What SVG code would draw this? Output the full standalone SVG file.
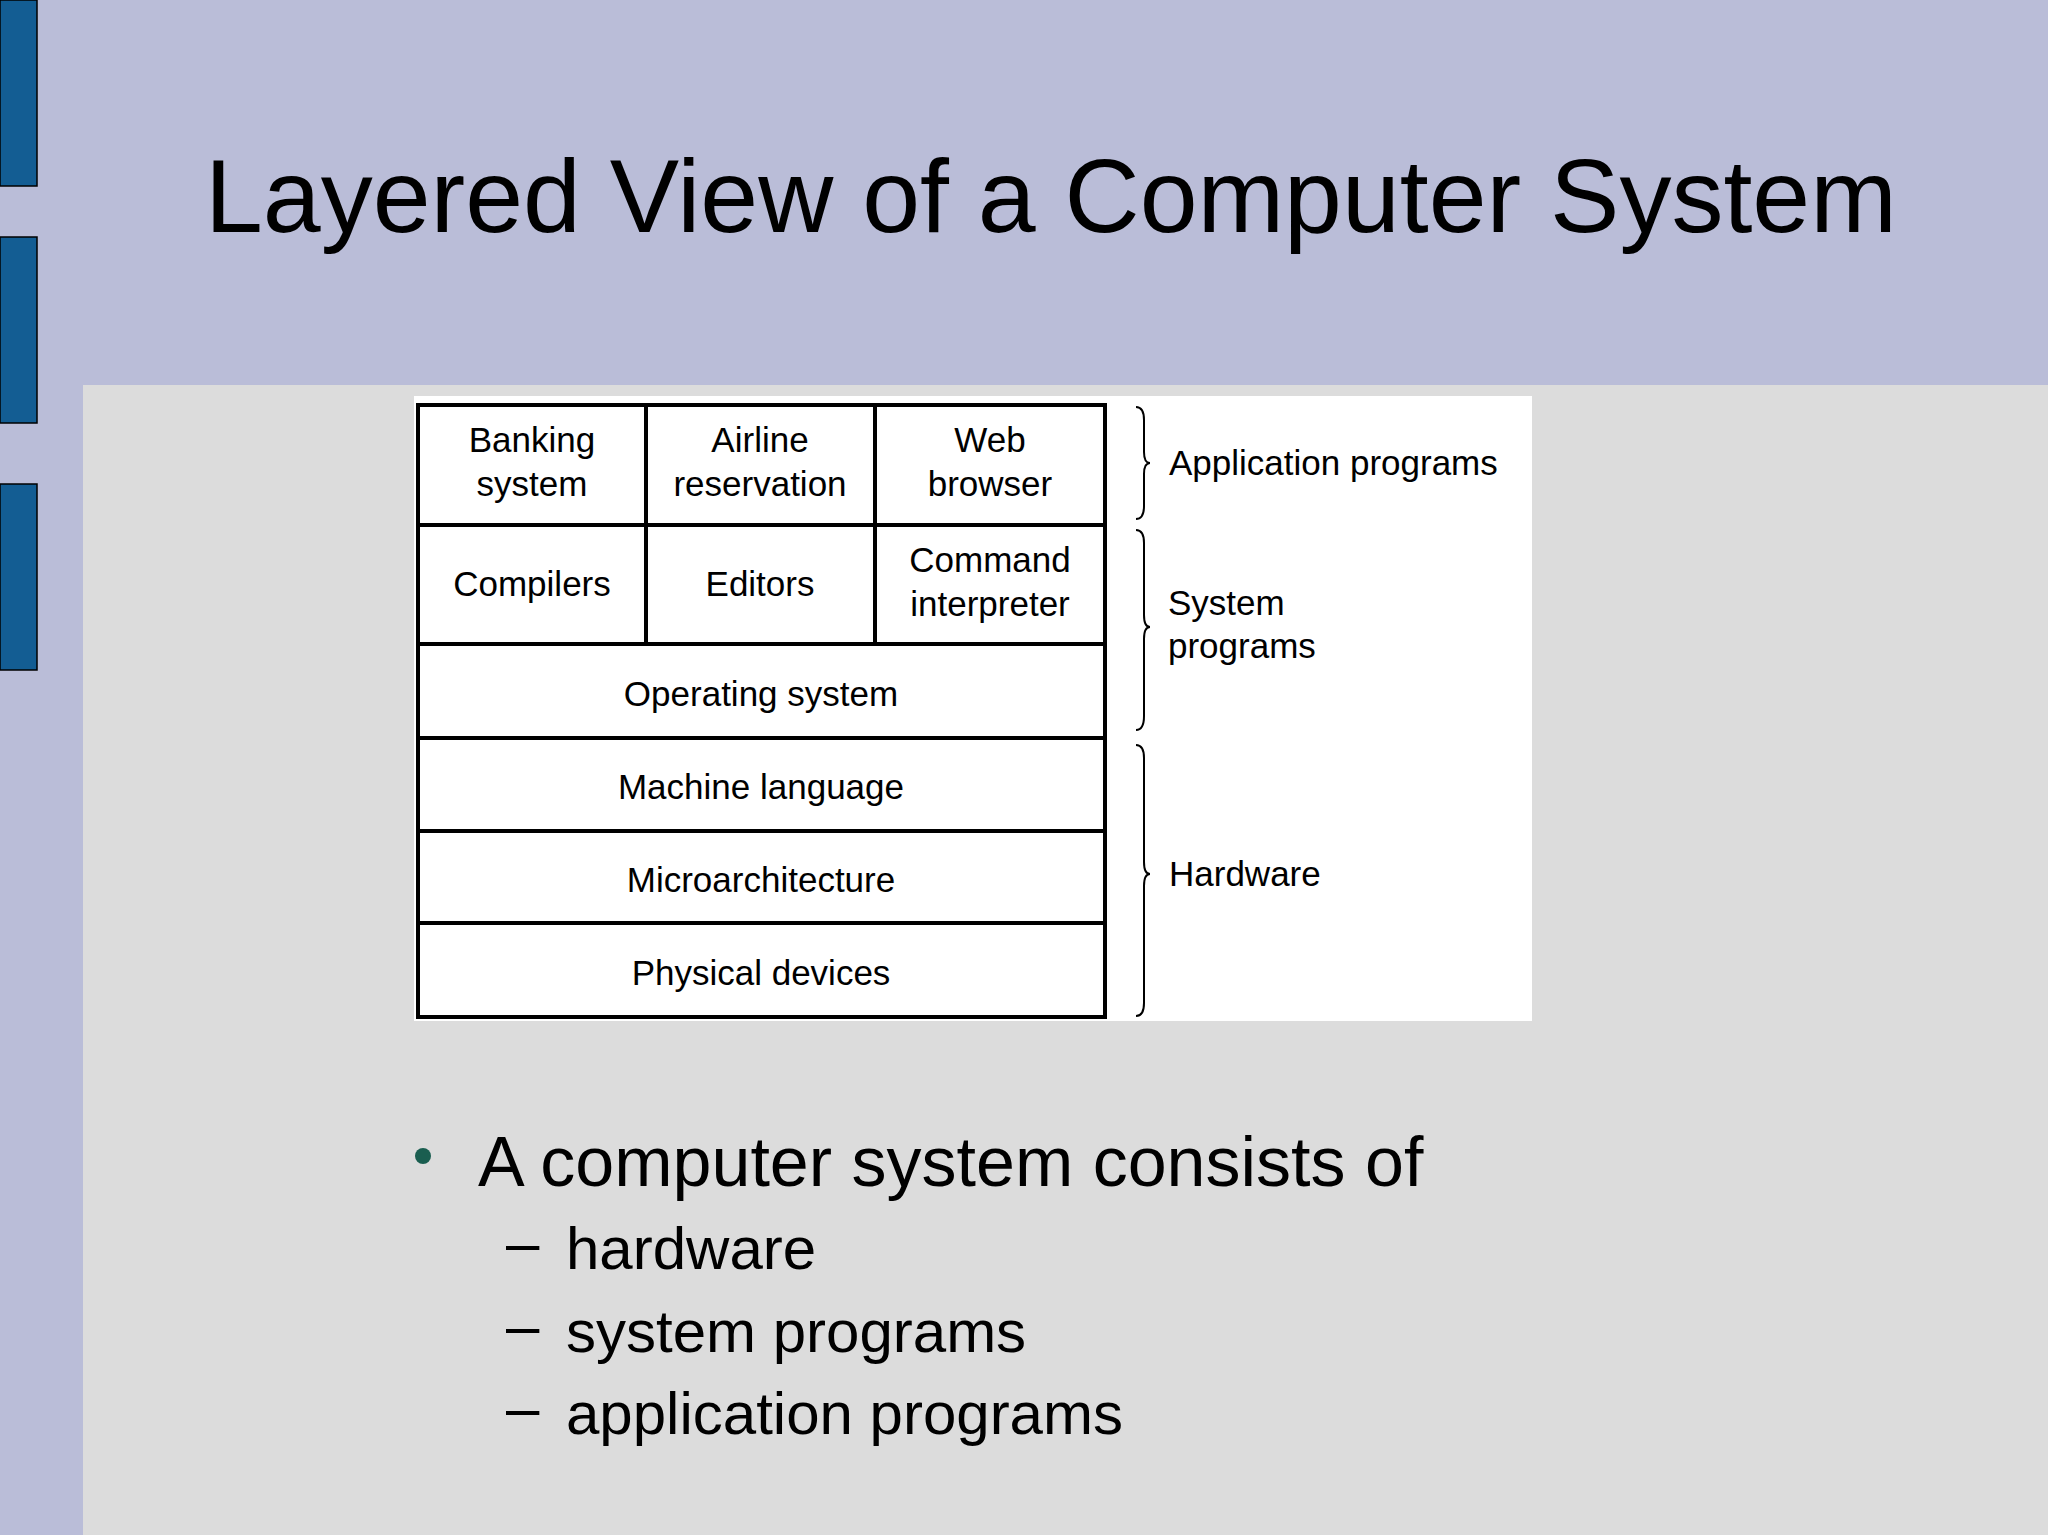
<svg xmlns="http://www.w3.org/2000/svg" width="2048" height="1535" viewBox="0 0 2048 1535">
<style>
.c{fill:#fff;stroke:#000;stroke-width:4}
.t{font-family:"Liberation Sans",Arial,sans-serif;font-size:35px;fill:#000;text-anchor:middle}
.l{font-family:"Liberation Sans",Arial,sans-serif;font-size:35px;fill:#000}
.br{fill:none;stroke:#000;stroke-width:2}
.b{font-family:"Liberation Sans",Arial,sans-serif;fill:#000}
</style>
<rect width="2048" height="1535" fill="#babdd8"/>
<rect x="83" y="385" width="1965" height="1150" fill="#dcdcdc"/>
<g fill="#135d93" stroke="#000" stroke-width="1.5">
<rect x="0" y="0" width="37" height="186"/>
<rect x="0" y="237" width="37" height="186"/>
<rect x="0" y="484" width="37" height="186"/>
</g>
<text class="b" x="205" y="232" font-size="104">Layered View of a Computer System</text>
<rect x="414" y="396" width="1118" height="625" fill="#fff"/>
<g id="banking"><rect class="c" x="418" y="405" width="228" height="120"/><text class="t" x="532" y="452">Banking</text><text class="t" x="532" y="496">system</text></g>
<g id="airline"><rect class="c" x="646" y="405" width="229" height="120"/><text class="t" x="760" y="452">Airline</text><text class="t" x="760" y="496">reservation</text></g>
<g id="web"><rect class="c" x="875" y="405" width="230" height="120"/><text class="t" x="990" y="452">Web</text><text class="t" x="990" y="496">browser</text></g>
<g id="compilers"><rect class="c" x="418" y="525" width="228" height="119"/><text class="t" x="532" y="596">Compilers</text></g>
<g id="editors"><rect class="c" x="646" y="525" width="229" height="119"/><text class="t" x="760" y="596">Editors</text></g>
<g id="command"><rect class="c" x="875" y="525" width="230" height="119"/><text class="t" x="990" y="572">Command</text><text class="t" x="990" y="616">interpreter</text></g>
<g id="os"><rect class="c" x="418" y="644" width="687" height="94"/><text class="t" x="761" y="706">Operating system</text></g>
<g id="machine"><rect class="c" x="418" y="738" width="687" height="93"/><text class="t" x="761" y="799">Machine language</text></g>
<g id="micro"><rect class="c" x="418" y="831" width="687" height="92"/><text class="t" x="761" y="892">Microarchitecture</text></g>
<g id="physical"><rect class="c" x="418" y="923" width="687" height="94"/><text class="t" x="761" y="985">Physical devices</text></g>
<g id="connectors">
<path class="br" d="M1136,407 Q1144,407 1144,420 L1144,452 Q1144,463 1150,463 Q1144,463 1144,474 L1144,506 Q1144,519 1136,519"/>
<path class="br" d="M1136,530 Q1144,530 1144,543 L1144,615 Q1144,627 1150,627 Q1144,627 1144,639 L1144,716 Q1144,730 1136,730"/>
<path class="br" d="M1136,745 Q1144,745 1144,758 L1144,862 Q1144,874 1150,874 Q1144,874 1144,886 L1144,1003 Q1144,1016 1136,1016"/>
</g>
<g id="labels">
<text class="l" x="1169" y="475">Application programs</text>
<text class="l" x="1168" y="615">System</text>
<text class="l" x="1168" y="658">programs</text>
<text class="l" x="1169" y="886">Hardware</text>
</g>
<circle cx="423" cy="1156" r="8" fill="#1a5e50"/>
<text class="b" x="478" y="1186" font-size="70">A computer system consists of</text>
<g class="b" font-size="60">
<text x="506" y="1263">–</text><text x="566" y="1269">hardware</text>
<text x="506" y="1346">–</text><text x="566" y="1352">system programs</text>
<text x="506" y="1428">–</text><text x="566" y="1434">application programs</text>
</g>
</svg>
